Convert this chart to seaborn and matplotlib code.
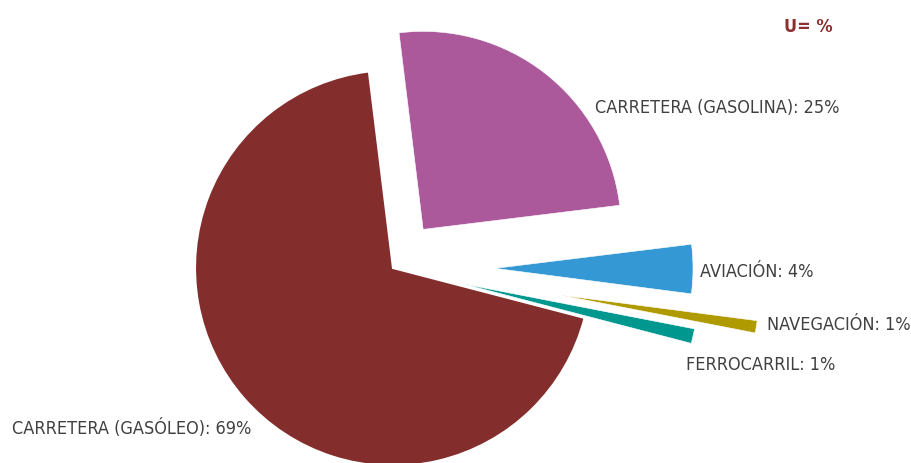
import matplotlib
matplotlib.use("Agg")
import matplotlib.pyplot as plt
import seaborn as sns

categories = ["CARRETERA (GASÓLEO)", "FERROCARRIL", "NAVEGACIÓN", "AVIACIÓN", "CARRETERA (GASOLINA)"]
values = [69, 1, 1, 4, 25]
colors = ["#832E2C", "#00978F", "#AF9A00", "#3398D4", "#AC599C"]
explode_px = [0, 72, 170, 102, 49]
unit_label = "U= %"

sns.set_theme(style="white")
plt.rcParams['font.family'] = ['DejaVu Sans']

W, H = 911, 463
fig = plt.figure(figsize=(W / 100, H / 100), dpi=100)
ax = fig.add_axes([0, 0, 1, 1])

R = 198
cx, cy = 393, H - 268
wedges, _ = ax.pie(values, colors=colors, startangle=97, counterclock=True,
                   explode=explode_px, radius=R, center=(cx, cy),
                   wedgeprops=dict(edgecolor="white", linewidth=0.4), frame=True)
ax.set_xlim(0, W)
ax.set_ylim(0, H)
ax.set_aspect("equal")
ax.axis("off")
wedges[0].set_zorder(5)
wedges[0].set_linewidth(1.5)
wedges[1].set_radius(R * 1.19)

label_pos = [(12, 428), (686, 365), (767, 325), (700, 272), (595, 108)]
for cat, val, (x, y) in zip(categories, values, label_pos):
    ax.text(x, H - y, f"{cat}: {val}%", fontsize=13, color="#404040",
            ha="left", va="center", zorder=10, fontstretch="condensed")

ax.text(784, H - 27, unit_label, fontsize=13, fontweight="bold", color="#8B3030",
        ha="left", va="center", fontstretch="condensed")

fig.savefig("out.png", dpi=100, facecolor="white")
